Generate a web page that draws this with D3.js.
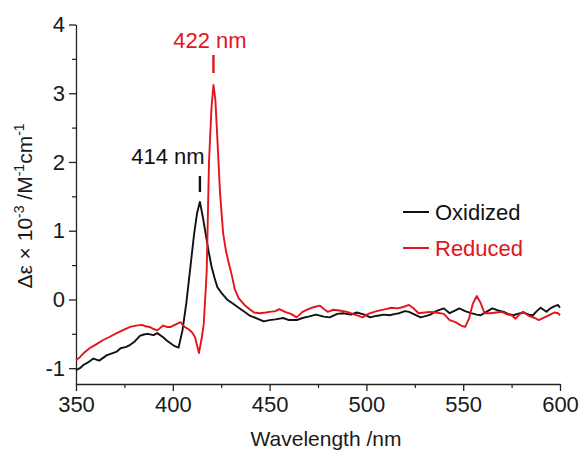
<!DOCTYPE html>
<html>
<head>
<meta charset="utf-8">
<script src="https://cdn.jsdelivr.net/npm/d3@7"></script>
<style>
  html, body { margin: 0; padding: 0; background: #fff; }
  svg { display: block; font-family: Arial, "Liberation Sans", sans-serif; }
</style>
</head>
<body>
<svg id="chart" width="581" height="452"></svg>
<script>
// ---- data ----
const oxWavelength = [350,352,354,356,359,362,364,366,369,371,373,376,378,380,383,385,387,390,392,395,397,399,401,403,405,407,409,411,412.5,414,415.5,417,418.5,420,421.5,423,425,428,431,434,437,440,443,447,450,453,457,460,464,467,470,474,478,481,485,488,492,495,499,502,505,509,512,515,517,520,522,525,528,531,533,536,540,543,546,548,551,554,557,559,562,565,568,571,573,576,578,581,584,586,588,590,593,595,597,599,600];
const oxValues = [-1.03,-1.00,-0.95,-0.92,-0.86,-0.89,-0.85,-0.81,-0.78,-0.76,-0.71,-0.69,-0.66,-0.62,-0.53,-0.51,-0.50,-0.52,-0.49,-0.55,-0.60,-0.64,-0.68,-0.70,-0.45,-0.05,0.45,0.95,1.25,1.42,1.20,0.95,0.70,0.48,0.32,0.18,0.10,0.00,-0.06,-0.12,-0.18,-0.24,-0.27,-0.32,-0.30,-0.29,-0.27,-0.30,-0.30,-0.27,-0.25,-0.22,-0.25,-0.26,-0.21,-0.20,-0.22,-0.19,-0.22,-0.26,-0.24,-0.22,-0.23,-0.21,-0.20,-0.17,-0.18,-0.22,-0.26,-0.24,-0.22,-0.17,-0.13,-0.20,-0.16,-0.13,-0.17,-0.20,-0.22,-0.23,-0.18,-0.13,-0.16,-0.18,-0.21,-0.23,-0.21,-0.19,-0.22,-0.23,-0.17,-0.12,-0.18,-0.13,-0.10,-0.08,-0.12];

const redWavelength = [350,352,354,357,360,364,367,371,374,378,381,384,386,388,390,392,395,397,399,401,404,406,408,410,411.5,413.5,415,416,417.5,418.7,420,421,422,423,424.4,426,427.5,429,430.5,432,434,437,440,442,445,448,450,453,455,458,461,464,467,470,473,476,478,480,483,486,490,493,496,498,501,504,507,510,513,516,519,522,524,527,530,533,536,540,543,546,549,551,553,555,557,559,561,564,567,570,573,575,577,579,581,584,587,589,592,595,597,599,600];
const redValues = [-0.88,-0.84,-0.78,-0.71,-0.66,-0.59,-0.55,-0.49,-0.45,-0.40,-0.38,-0.37,-0.39,-0.40,-0.43,-0.45,-0.38,-0.40,-0.40,-0.37,-0.33,-0.40,-0.43,-0.48,-0.55,-0.78,-0.55,-0.35,0.40,2.00,2.80,3.12,2.90,2.35,1.55,0.96,0.70,0.52,0.35,0.15,0.02,-0.08,-0.15,-0.19,-0.20,-0.19,-0.18,-0.17,-0.14,-0.18,-0.21,-0.26,-0.18,-0.14,-0.11,-0.09,-0.14,-0.18,-0.15,-0.16,-0.18,-0.21,-0.24,-0.26,-0.21,-0.18,-0.16,-0.14,-0.12,-0.13,-0.11,-0.08,-0.12,-0.20,-0.19,-0.18,-0.19,-0.21,-0.30,-0.33,-0.38,-0.40,-0.28,-0.06,0.05,-0.05,-0.20,-0.20,-0.19,-0.18,-0.22,-0.23,-0.28,-0.22,-0.18,-0.24,-0.27,-0.30,-0.26,-0.22,-0.19,-0.20,-0.23];

const xTicks = [350,400,450,500,550,600];
const xMinorTicks = [375,425,475,525,575];
const yTicks = [-1,0,1,2,3,4];
const yMinorTicks = [-0.5,0.5,1.5,2.5,3.5];
const seriesNames = ["Oxidized","Reduced"];
const peakLabels = [{nm:414, text:"414 nm", series:0}, {nm:421, text:"422 nm", series:1}];

// ---- layout ----
const colors = ["#111111", "#e3141b"];
const svg = d3.select("#chart");
const x = d3.scaleLinear().domain([350, 600]).range([76, 560]);
const y = d3.scaleLinear().domain([-1.23, 4]).range([384, 24.5]);
const axisColor = "#222";
const FONT = "22px";

// minor ticks
svg.append("g").attr("transform", "translate(0,384)")
  .call(d3.axisBottom(x).tickValues(xMinorTicks).tickSize(4).tickFormat(""))
  .call(g => g.select(".domain").remove())
  .call(g => g.selectAll("line").attr("stroke", axisColor).attr("stroke-width", 1.2));
svg.append("g").attr("transform", "translate(76,0)")
  .call(d3.axisLeft(y).tickValues(yMinorTicks).tickSize(4).tickFormat(""))
  .call(g => g.select(".domain").remove())
  .call(g => g.selectAll("line").attr("stroke", axisColor).attr("stroke-width", 1.2));

// major axes
const xAxis = svg.append("g").attr("transform", "translate(0,384)")
  .call(d3.axisBottom(x).tickValues(xTicks).tickSize(7).tickSizeOuter(0).tickPadding(5).tickFormat(d3.format("d")));
const yAxis = svg.append("g").attr("transform", "translate(76,0)")
  .call(d3.axisLeft(y).tickValues(yTicks).tickSize(7).tickSizeOuter(0).tickPadding(4).tickFormat(d => d < 0 ? "-" + Math.abs(d) : d));
[xAxis, yAxis].forEach(a => {
  a.select(".domain").attr("stroke", axisColor).attr("stroke-width", 1.3);
  a.selectAll("line").attr("stroke", axisColor).attr("stroke-width", 1.3);
  a.selectAll("text").attr("fill", "#1a1a1a").style("font-size", FONT).style("font-family", "Arial, 'Liberation Sans', sans-serif");
});

// lines
const line = d3.line().x(d => x(d[0])).y(d => y(d[1]));
const series = [
  d3.zip(oxWavelength, oxValues),
  d3.zip(redWavelength, redValues)
];
series.forEach((s, i) => {
  svg.append("path").datum(s).attr("d", line)
    .attr("fill", "none").attr("stroke", colors[i]).attr("stroke-width", 1.9)
    .attr("stroke-linejoin", "round");
});

// peak annotations
const peakGeom = [
  {lineTop: 176, lineBot: 192, textY: 164, textX: 168},
  {lineTop: 55, lineBot: 73, textY: 48, textX: 210}
];
peakLabels.forEach((p, i) => {
  const g = peakGeom[i];
  svg.append("line").attr("x1", x(p.nm)).attr("x2", x(p.nm))
    .attr("y1", g.lineTop).attr("y2", g.lineBot)
    .attr("stroke", colors[p.series]).attr("stroke-width", 2.4);
  svg.append("text").attr("x", g.textX).attr("y", g.textY)
    .attr("text-anchor", "middle").attr("fill", colors[p.series])
    .style("font-size", FONT).text(p.text);
});

// legend
seriesNames.forEach((name, i) => {
  const ly = 212 + i * 36;
  svg.append("line").attr("x1", 403).attr("x2", 429).attr("y1", ly).attr("y2", ly)
    .attr("stroke", colors[i]).attr("stroke-width", 2);
  svg.append("text").attr("x", 435).attr("y", ly + 8)
    .attr("fill", colors[i]).style("font-size", FONT).text(name);
});

// axis titles
svg.append("text").attr("x", 326).attr("y", 446).attr("text-anchor", "middle")
  .attr("fill", "#1a1a1a").style("font-size", "21px").text("Wavelength /nm");

const yt = svg.append("text").attr("transform", "translate(32,206) rotate(-90)")
  .attr("text-anchor", "middle").attr("fill", "#1a1a1a").style("font-size", "21px");
yt.append("tspan").text("Δε × 10");
yt.append("tspan").attr("dy", -8).style("font-size", "14px").text("-3");
yt.append("tspan").attr("dy", 8).text(" /M");
yt.append("tspan").attr("dy", -8).style("font-size", "14px").text("-1");
yt.append("tspan").attr("dy", 8).text("cm");
yt.append("tspan").attr("dy", -8).style("font-size", "14px").text("-1");
</script>
</body>
</html>
